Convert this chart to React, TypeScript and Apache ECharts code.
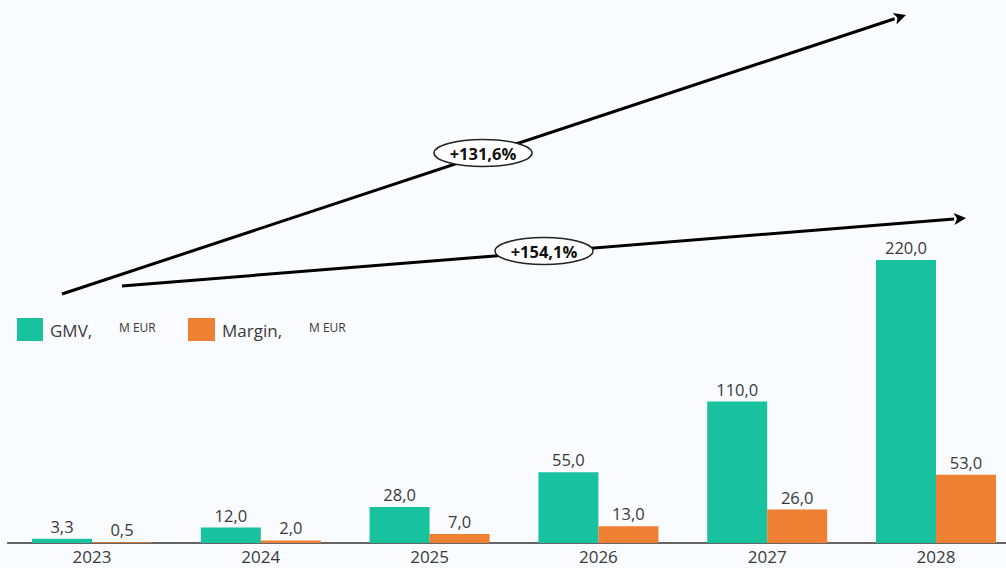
import React, { useEffect, useRef } from "react";
import * as echarts from "echarts";

const years = ["2023", "2024", "2025", "2026", "2027", "2028"];
const gmv = [3.3, 12.0, 28.0, 55.0, 110.0, 220.0];
const margin = [0.5, 2.0, 7.0, 13.0, 26.0, 53.0];
const growthLabels = ["+131,6%", "+154,1%"];

const TEAL = "#19c29f";
const ORANGE = "#ef7f32";
const TXT = "#3a3a3a";
const FONT = "'Open Sans', 'Noto Sans', sans-serif";

function arrow(x1: number, y1: number, x2: number, y2: number, width: number) {
  const ang = Math.atan2(y2 - y1, x2 - x1);
  const L = 12;
  const W = 6;
  const bx = x2 - L * Math.cos(ang);
  const by = y2 - L * Math.sin(ang);
  const px = -Math.sin(ang);
  const py = Math.cos(ang);
  return [
    {
      type: "line",
      shape: { x1, y1, x2: bx, y2: by },
      style: { stroke: "#000", lineWidth: width },
      z: 10,
    },
    {
      type: "polygon",
      shape: {
        points: [
          [x2, y2],
          [bx + px * W, by + py * W],
          [bx + (x2 - bx) * 0.25, by + (y2 - by) * 0.25],
          [bx - px * W, by - py * W],
        ],
      },
      style: { fill: "#000" },
      z: 10,
    },
  ];
}

function badge(cx: number, cy: number, text: string) {
  return [
    {
      type: "ellipse",
      shape: { cx, cy, rx: 49, ry: 13.5 },
      style: { fill: "#fff", stroke: "#222", lineWidth: 1.5 },
      z: 11,
    },
    {
      type: "text",
      x: cx,
      y: cy,
      style: {
        text,
        fill: "#111",
        font: `bold 16.5px ${FONT}`,
        align: "center",
        verticalAlign: "middle",
      },
      z: 12,
    },
  ];
}

export default function App() {
  const ref = useRef<HTMLDivElement>(null);
  useEffect(() => {
    if (!ref.current) return;
    const chart = echarts.init(ref.current, null, { renderer: "svg" });
    const fmt = (p: any) => Number(p.value).toFixed(1).replace(".", ",");
    chart.setOption({
      animation: false,
      backgroundColor: "#f9fbfe",
      grid: { left: 7.6, width: 1012.8, top: 260, bottom: 25 },
      xAxis: {
        type: "category",
        data: years,
        axisTick: { show: false },
        axisLine: { lineStyle: { color: "#333", width: 1.5 } },
        axisLabel: { color: TXT, fontSize: 17, fontFamily: FONT, margin: 5 },
      },
      yAxis: {
        type: "value",
        min: 0,
        max: 220,
        show: false,
        splitLine: { show: false },
      },
      series: [
        {
          name: "GMV",
          type: "bar",
          data: gmv,
          barWidth: 60,
          barGap: "0%",
          itemStyle: { color: TEAL },
          label: { show: true, position: "top", formatter: fmt, color: TXT, fontSize: 16.5, fontFamily: FONT, distance: 4 },
        },
        {
          name: "Margin",
          type: "bar",
          data: margin,
          barWidth: 60,
          itemStyle: { color: ORANGE },
          label: { show: true, position: "top", formatter: fmt, color: TXT, fontSize: 16.5, fontFamily: FONT, distance: 4 },
        },
      ],
      graphic: [
        ...arrow(62, 294, 906, 15, 3),
        ...arrow(122, 286, 966, 218, 3),
        ...badge(483, 153, growthLabels[0]),
        ...badge(544, 251, growthLabels[1]),
        { type: "rect", shape: { x: 17, y: 318, width: 26, height: 23 }, style: { fill: TEAL } },
        { type: "text", x: 50, y: 330, style: { text: "GMV,", fill: TXT, font: `17px ${FONT}`, verticalAlign: "middle" } },
        { type: "text", x: 119, y: 327, style: { text: "M EUR", fill: TXT, font: `12px ${FONT}`, verticalAlign: "middle" } },
        { type: "rect", shape: { x: 188, y: 318, width: 27, height: 23 }, style: { fill: ORANGE } },
        { type: "text", x: 222, y: 330, style: { text: "Margin,", fill: TXT, font: `17px ${FONT}`, verticalAlign: "middle" } },
        { type: "text", x: 309, y: 327, style: { text: "M EUR", fill: TXT, font: `12px ${FONT}`, verticalAlign: "middle" } },
      ],
    });
    return () => chart.dispose();
  }, []);
  return (
    <div style={{ position: "fixed", left: 0, top: 0, width: 1006, height: 568, overflow: "hidden" }}>
      <div ref={ref} style={{ width: 1030, height: 568 }} />
    </div>
  );
}
